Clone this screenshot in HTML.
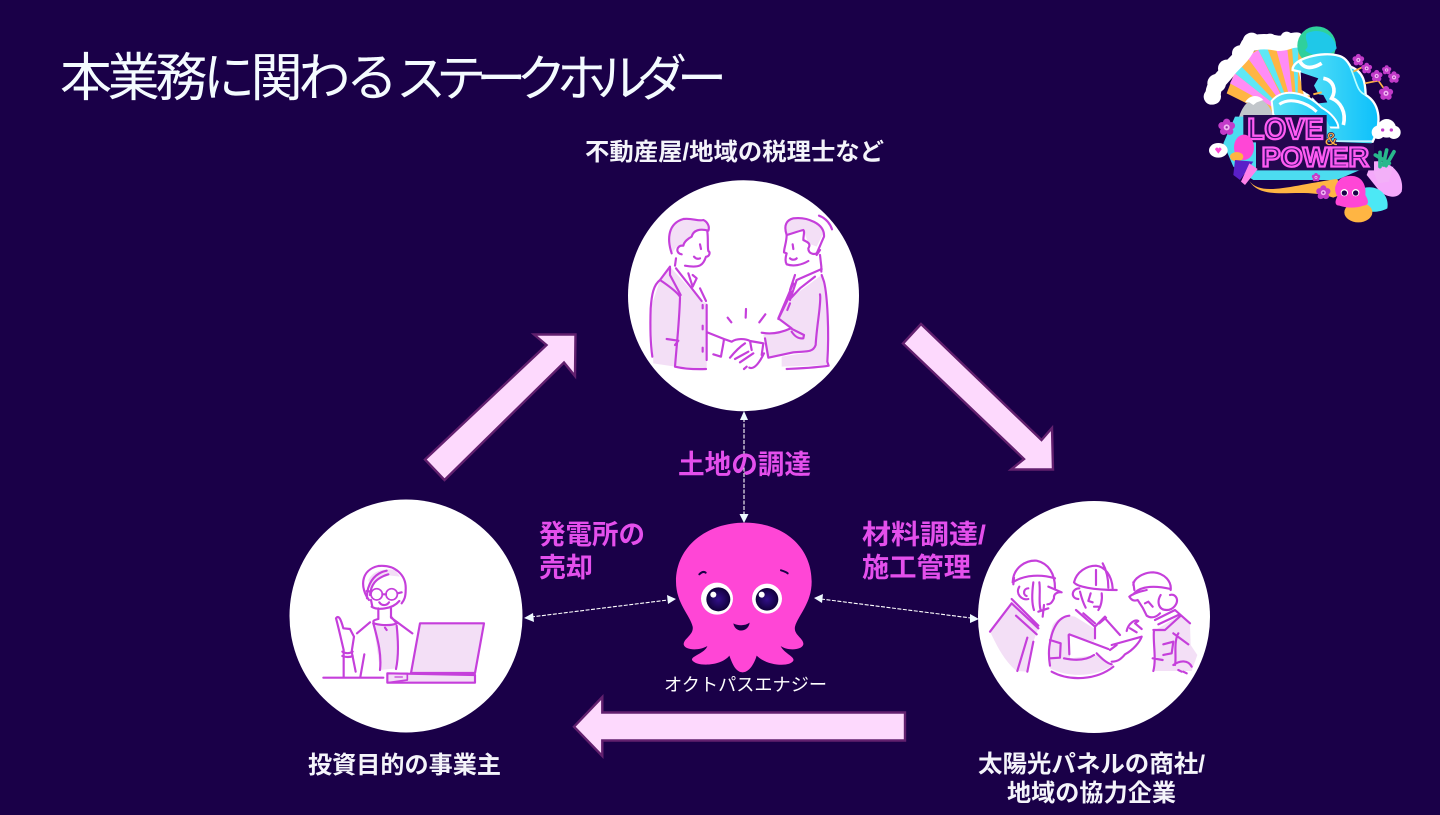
<!DOCTYPE html>
<html lang="ja"><head><meta charset="utf-8"><title>本業務に関わるステークホルダー</title>
<style>
html,body{margin:0;padding:0;background:#1a0048;width:1440px;height:815px;overflow:hidden}
svg{display:block}
text{font-family:"Liberation Sans","Noto Sans CJK JP",sans-serif}
.b{font-weight:700;fill:#f4f4fa;font-size:24px}
.p{font-weight:700;fill:#e44fec;font-size:27px}
.ln{fill:none;stroke:#c53fdb;stroke-width:6.5;stroke-linecap:round;stroke-linejoin:round}
.fl{fill:#f3dff6;stroke:none}
.ar{fill:#fdd9fd;stroke:#62206e;stroke-width:2.4}
.da{stroke:#fff;stroke-width:1.1;stroke-dasharray:4 1.5;fill:none}
.ah{fill:#eefaff}
</style></head><body>
<svg width="1440" height="815" viewBox="0 0 1440 815" xmlns="http://www.w3.org/2000/svg">
<defs>
<linearGradient id="w" x1="0" y1="0" x2="1" y2="0"><stop offset="0" stop-color="#5fe3f5"/><stop offset="1" stop-color="#0cc0fb"/></linearGradient>
<radialGradient id="e"><stop offset="0" stop-color="#32108a"/><stop offset="1" stop-color="#10003a"/></radialGradient>
<g id="f"><circle r="17" fill="#c23bc9"/><circle cx="0" cy="-15" r="11" fill="#c23bc9"/><circle cx="14" cy="-5" r="11" fill="#c23bc9"/><circle cx="9" cy="12" r="11" fill="#c23bc9"/><circle cx="-9" cy="12" r="11" fill="#c23bc9"/><circle cx="-14" cy="-5" r="11" fill="#c23bc9"/><circle r="9" fill="#f4b4f4"/><circle r="3.5" fill="#8b2aa0"/></g>
</defs>
<rect width="1440" height="815" fill="#1a0048"/>
<text x="60" y="96" font-size="52" fill="#f4fbff" textLength="338" lengthAdjust="spacing" style="font-weight:400">本業務に関わる</text>
<text x="396" y="96" font-size="50" fill="#f4fbff" textLength="331" lengthAdjust="spacing" style="font-weight:400">ステークホルダー</text>

<!-- circles -->
<circle cx="743.5" cy="295.7" r="115.5" fill="#fff"/>
<circle cx="406" cy="616" r="116.5" fill="#fff"/>
<circle cx="1094" cy="617" r="116" fill="#fff"/>

<!-- arrows -->
<polygon class="ar" points="921,324 903,343.5 1024,459 1011,469.5 1053,469.5 1052,428 1041.5,440"/>
<polygon class="ar" points="574,726.7 602.3,697 602.3,712.5 905,712.5 905,740.5 602.3,740.5 602.3,756"/>
<polygon class="ar" points="425,459.5 444.5,480 564,362.5 575,376 575.5,334.5 534,334.5 546.5,345"/>

<!-- dashed -->
<line class="da" x1="744" y1="418" x2="744" y2="516"/>
<polygon class="ah" points="744,411 740,420 748,420"/><polygon class="ah" points="744,523 739.5,514 748.5,514"/>
<line class="da" x1="531" y1="617" x2="668" y2="600"/>
<polygon class="ah" points="524,618 533,613 534,622"/><polygon class="ah" points="676,599 667,595 668,604"/>
<line class="da" x1="821" y1="599" x2="971" y2="618"/>
<polygon class="ah" points="814,598 823,594 822,603"/><polygon class="ah" points="979,619 970,614 970,623"/>

<!-- labels -->
<text class="b" x="585" y="160" textLength="299" lengthAdjust="spacingAndGlyphs">不動産屋/地域の税理士など</text>
<text class="p" x="678" y="474" textLength="133" lengthAdjust="spacingAndGlyphs">土地の調達</text>
<text class="p" x="539" y="544" textLength="106" lengthAdjust="spacingAndGlyphs">発電所の</text>
<text class="p" x="539" y="577" textLength="54" lengthAdjust="spacingAndGlyphs">売却</text>
<text class="p" x="862" y="544" textLength="124" lengthAdjust="spacingAndGlyphs">材料調達/</text>
<text class="p" x="862" y="577" textLength="109" lengthAdjust="spacingAndGlyphs">施工管理</text>
<text x="664" y="691" font-size="18" fill="#fff" textLength="163" lengthAdjust="spacingAndGlyphs">オクトパスエナジー</text>
<text class="b" x="308" y="773" textLength="193" lengthAdjust="spacingAndGlyphs">投資目的の事業主</text>
<text class="b" x="978" y="772" textLength="227" lengthAdjust="spacingAndGlyphs">太陽光パネルの商社/</text>
<text class="b" x="1007" y="801" textLength="169" lengthAdjust="spacingAndGlyphs">地域の協力企業</text>

<!-- handshake illustration -->
<g transform="translate(620,175) scale(.33333)">
<path class="fl" d="M120,315 L150,275 L245,380 L262,385 L260,580 L165,575 L100,565 L92,400Z"/>
<path class="fl" d="M155,235 C140,190 145,145 190,132 C215,128 235,140 250,135 C262,140 270,155 265,167 C240,160 220,165 215,185 C205,190 192,200 190,212 L170,215Z"/>
<path class="fl" d="M485,575 L485,545 L580,530 L440,545 L430,480 L510,460 L475,430 L510,370 L605,300 L625,400 L625,570Z"/>
<path class="fl" d="M500,180 L550,165 L565,205 L590,215 L610,175 C605,145 560,130 520,130 C500,135 490,150 500,180Z"/>
<path class="ln" d="M155,235 C140,190 145,145 190,132 C215,128 235,140 250,135 C262,140 270,155 265,167 C240,160 220,165 215,185 C205,190 192,200 190,212"/>
<path class="ln" d="M262,170 C265,190 262,215 265,228 C272,232 268,245 258,245 C250,270 240,280 195,272"/>
<path class="ln" d="M188,212 C170,210 165,235 185,238 M168,250 L165,272 M240,208 L243,222 M222,245 C228,252 235,252 240,250"/>
<path class="ln" d="M120,315 L150,275 L150,300 L182,360 M92,400 C95,360 100,330 120,315 C150,335 170,350 180,365 M92,400 C90,460 92,510 97,545"/>
<path class="ln" d="M168,280 L245,378 M205,295 L218,335 L230,310 L218,300 M240,340 L258,378"/>
<path class="ln" d="M180,368 C178,440 170,510 165,575 C195,582 230,583 258,582 M260,390 L260,555 M248,390 L248,400 M248,452 L248,463 M248,518 L248,530 M140,492 L175,497 L165,510"/>
<path class="ln" d="M262,472 L312,492 C310,510 305,530 303,545 L280,538 M312,492 L335,500 C350,490 375,490 390,498 L395,525 M330,548 C345,530 360,515 375,505 M390,498 L430,505 L425,540 M345,552 L385,530 M360,562 L400,535 M372,582 L380,575 M388,578 C400,583 415,570 432,535"/>
<path class="ln" d="M323,428 L334,442 M378,402 L377,428 M436,418 L418,442"/>
<path class="ln" d="M500,180 C490,150 500,135 520,130 C560,125 615,145 612,185 C605,200 595,225 590,235 C580,240 565,235 565,220 C575,205 560,200 550,195 C550,180 555,170 550,165 C530,170 510,178 500,180Z"/>
<path class="ln" d="M500,180 C500,200 492,220 492,232 L500,235 C497,245 495,260 500,268 C520,275 545,270 565,258 M510,250 C516,256 525,255 530,250 M518,208 L520,222 M597,122 C620,130 632,150 636,163 M590,240 L600,225 M600,240 L604,275 L604,290"/>
<path class="ln" d="M605,282 L530,315 L510,375 M525,300 L510,345 M605,300 L612,320 C622,360 628,470 622,560 L626,572 C590,578 540,580 500,582 M585,305 L540,340 L510,372 M510,385 L502,405 M520,325 L475,430 L515,460 M515,350 L475,432"/>
<path class="ln" d="M425,473 C460,480 490,470 512,460 L552,480 L550,490 C535,492 525,485 515,470 M435,490 L445,548 L520,532 C555,528 578,535 587,510 C590,450 605,380 600,358"/>
</g>

<!-- woman at laptop -->
<g transform="translate(285,495) scale(.33333)">
<path class="fl" d="M265,385 L335,390 L335,520 L285,525Z"/>
<path class="fl" d="M250,255 C265,225 300,220 330,225 L345,245 L300,240 C275,245 262,265 258,290Z"/>
<path class="fl" d="M405,385 L597,385 L570,532 L380,532Z"/>
<path class="fl" d="M307,535 L570,540 L570,563 L307,563Z"/>
<path class="ln" d="M252,315 C225,280 225,225 280,213 C330,208 365,240 362,285 C362,305 358,315 350,325"/>
<path class="ln" d="M246,310 C245,270 265,235 305,227 M255,300 C258,270 270,250 310,238"/>
<path class="ln" d="M260,335 C275,345 320,345 343,318 M258,315 L262,335 M280,340 L280,370 M318,340 L318,365"/>
<circle class="ln" cx="275" cy="298" r="17" style="stroke-width:5"/><circle class="ln" cx="320" cy="298" r="17" style="stroke-width:5"/>
<path class="ln" d="M283,322 C290,333 305,333 312,322 M292,298 L303,298 M258,290 L245,288 M338,295 L350,292"/>
<path class="ln" d="M280,372 C255,378 270,382 265,385 C290,392 320,392 335,385 L318,365 M318,368 L382,415 M255,382 L216,415"/>
<path class="ln" d="M265,385 C280,440 290,480 285,525 M335,392 C340,440 340,490 333,522 M300,398 L305,405"/>
<path class="ln" d="M115,548 L295,548 M238,478 L226,546 M176,546 L176,465 C170,440 160,395 153,370 C162,358 168,375 175,400 L195,402 L207,425 L200,470 L212,530"/>
<path class="ln" d="M172,470 C180,476 195,476 203,470 M172,483 C182,487 195,487 203,483"/>
<path class="ln" d="M405,385 L597,385 L570,534 L378,534Z M307,535 L570,540 L570,563 L307,563Z"/>
<path class="ln" d="M307,535 L367,535 L367,555 L307,563" style="stroke-width:5"/>
<path class="ln" d="M330,546 L352,546" style="stroke-width:4"/>
</g>

<!-- workers -->
<g transform="translate(970,495) scale(.33333)">
<path class="fl" d="M60,410 L125,325 L205,400 L190,440 L172,530 L140,528 C100,495 80,450 60,410Z"/>
<path class="fl" d="M248,390 C265,365 290,360 315,365 L372,400 L372,440 L300,420 L300,490 L380,480 L430,510 C380,545 300,550 240,520 C232,480 235,430 248,390Z"/>
<path class="fl" d="M552,405 L565,400 L630,360 L660,390 L662,450 L682,480 L665,528 L552,528 C555,490 545,440 552,405Z"/>
<path class="ln" d="M128,262 C130,215 170,195 200,197 C235,205 255,235 255,280 M128,262 C165,238 215,238 255,250 M130,268 L132,248"/>
<path class="ln" d="M148,275 C135,295 155,318 175,312 M175,280 C160,280 158,300 170,303 M190,262 C185,300 185,325 192,345 M208,262 C212,290 205,325 212,345 M235,275 L275,292 C265,290 250,295 252,310 C245,325 240,328 232,328 M205,350 L235,340 M222,330 L218,365"/>
<path class="ln" d="M60,410 L125,325 L205,400 M125,312 L205,392 M138,362 L200,418 M190,440 L172,530 M172,428 L142,528"/>
<path class="ln" d="M312,262 C320,230 350,212 378,212 C405,215 425,240 428,280 M312,262 C320,275 370,285 440,285 M378,225 L378,270 M398,205 C412,230 415,260 415,278"/>
<path class="ln" d="M328,280 C305,280 300,310 325,312 M330,290 C335,310 340,325 347,338 M362,295 L355,318 L368,322 M395,295 C398,315 392,335 385,345 M372,335 L385,335"/>
<path class="ln" d="M318,345 L375,395 L405,365 M340,355 L375,385 M375,395 L375,430 M405,370 L450,420 M388,385 L408,368"/>
<path class="ln" d="M298,362 C265,365 245,400 238,455 C235,480 238,500 240,512 M240,435 L272,445 L270,488 L240,490 M245,530 C300,560 380,555 430,515"/>
<path class="ln" d="M298,418 L415,462 M296,420 L298,478 M282,490 C320,498 350,495 372,480 M380,475 C395,490 410,505 425,508 M425,450 L515,425 C510,440 490,465 465,478 C455,490 445,500 425,500 M420,465 L440,450"/>
<path class="ln" d="M470,408 C475,385 495,372 505,378 L495,385 L515,402 M480,400 L500,412"/>
<path class="ln" d="M490,270 C490,250 520,232 550,232 C585,235 605,260 602,285 M490,298 C505,278 540,268 602,282 M478,305 C490,295 510,290 530,285 M478,305 C485,318 495,318 503,315 M490,262 L493,285"/>
<path class="ln" d="M505,318 L518,338 L530,362 C545,372 560,365 570,355 M525,325 L535,320 L548,335 M572,300 C560,320 565,345 590,345 C610,345 625,325 620,310 C615,298 605,298 600,300"/>
<path class="ln" d="M555,375 L615,345 L660,385 M565,388 L625,360 M550,405 L585,405 L632,362 M610,415 L655,448 M552,405 C548,440 560,490 550,528 M580,448 L610,440 L605,475 L580,480 M625,415 C610,440 620,490 615,510 M548,490 L578,495 M610,510 C630,495 655,495 665,515 M625,525 L635,530 M640,530 L650,535"/>
</g>

<!-- octopus -->
<g transform="translate(650,510) scale(.33333)">
<path fill="#ff46d6" d="M285,38 C400,38 485,110 485,215 C485,280 445,315 435,350 C430,375 462,385 460,403 C455,422 410,422 392,408 C402,430 435,440 430,452 C420,472 350,468 320,437 C315,455 300,487 278,487 C255,487 245,455 238,437 C215,468 140,472 126,450 C123,438 165,430 172,408 C150,422 105,422 101,403 C101,385 132,375 128,350 C120,315 78,280 78,215 C78,110 170,38 285,38Z"/>
<circle cx="201" cy="266" r="48" fill="#fff"/><circle cx="351" cy="266" r="45" fill="#fff"/>
<circle cx="205" cy="268" r="36" fill="url(#e)"/><circle cx="351" cy="268" r="34" fill="url(#e)"/>
<circle cx="190" cy="254" r="9" fill="#fff"/><circle cx="335" cy="254" r="9" fill="#fff"/>
<path fill="#1a0048" d="M250,340 C265,348 285,348 299,338 C295,368 255,370 250,340Z"/>
<path d="M148,193 C155,186 162,184 167,188" stroke="#1a0048" stroke-width="6" fill="none" stroke-linecap="round"/>
<path d="M393,181 C400,183 408,186 413,190" stroke="#1a0048" stroke-width="6" fill="none" stroke-linecap="round"/>
</g>

<!-- logo -->
<g transform="translate(1190,15) scale(.33333)">
<!-- fan -->
<path d="M110,235 L150,130 L230,90 L330,90 L370,300 L240,300Z" fill="#ffb543"/>
<path d="M300,305 L120,205 L135,175Z M305,305 L170,125 L205,105Z M315,305 L255,90 L290,85Z" fill="#ff8cf5"/>
<path d="M300,305 L135,175 L150,150Z M310,305 L205,105 L230,95Z M322,305 L305,85 L325,90Z" fill="#5ee7f5"/>
<!-- cloud -->
<path d="M70,245 C65,210 95,195 115,165 C135,140 160,125 175,90 C205,75 240,80 265,85 C290,85 300,75 320,75" fill="none" stroke="#fff" stroke-width="46" stroke-linecap="round" stroke-linejoin="round"/>
<g fill="#fff"><circle cx="65" cy="245" r="24"/><circle cx="80" cy="205" r="28"/><circle cx="110" cy="160" r="26"/><circle cx="150" cy="115" r="24"/><circle cx="185" cy="80" r="27"/><circle cx="240" cy="78" r="22"/><circle cx="290" cy="68" r="18"/></g>
<!-- planet -->
<circle cx="380" cy="92" r="58" fill="#2fd09c"/>
<path d="M350,55 C390,35 435,60 440,100 C420,125 370,130 345,105 C365,90 340,75 350,55Z" fill="#1fc8e8"/>
<!-- mountain -->
<path d="M142,330 C150,270 185,240 215,255 C235,265 250,290 255,330Z" fill="#c2c6cb"/>
<path d="M165,262 C180,238 205,238 220,255 L200,262 L190,270 L178,262Z" fill="#fff"/>
<!-- big wave -->
<path d="M308,165 C305,130 400,108 445,122 C470,128 478,150 482,155 C522,170 526,205 527,240 C565,262 580,315 548,380 L440,380 L370,290 L370,235 L345,240 L330,170Z" fill="url(#w)" stroke="#fff" stroke-width="7"/>
<path d="M332,172 L385,190 L372,212 L386,238 L400,240 L412,262 L385,265 L362,242 L335,225Z" fill="#1a0048"/>
<path d="M370,238 L395,232" stroke="#ffb543" stroke-width="6"/>
<path d="M330,140 C345,165 370,160 395,145 M400,190 C430,195 440,225 425,250 C450,260 470,290 460,330" fill="none" stroke="#fff" stroke-width="11"/>
<path d="M480,155 C500,200 500,230 527,240" fill="none" stroke="#bff" stroke-width="5"/>
<!-- small wave -->
<path d="M245,258 C280,215 350,232 395,278 C425,295 445,320 445,338 L300,335 L250,300Z" fill="url(#w)" stroke="#fff" stroke-width="6"/>
<path d="M268,268 C300,245 350,262 380,290" fill="none" stroke="#fff" stroke-width="9"/>
<!-- lower backdrop -->
<path d="M135,305 L100,385 L130,455 L190,495 L440,495 L545,450 L545,380 L440,380 L405,305Z" fill="#4cdcf0"/>
<path d="M545,440 C600,430 645,480 635,530 C620,555 590,545 570,530 L530,480Z" fill="#f5a9fb"/>
<path d="M505,525 C555,500 600,535 592,580 C565,595 530,592 505,580Z" fill="#4ce8f5"/>
<path d="M178,498 C215,545 300,512 440,492 L475,530 L430,548 C330,512 220,565 178,498Z" fill="#ffb543"/>
<ellipse cx="505" cy="592" rx="42" ry="30" fill="#ffb543"/>
<!-- title plate -->
<path d="M160,300 L410,300 L410,380 L552,385 L552,466 L198,466 L198,382 L160,382Z" fill="#24084f"/>
<text x="172" y="372" font-size="88" style="font-weight:700" fill="#3a0d6e" stroke="#ff5cf2" stroke-width="7" textLength="228" lengthAdjust="spacingAndGlyphs">LOVE</text>
<text x="215" y="455" font-size="84" style="font-weight:700" fill="#3a0d6e" stroke="#ff5cf2" stroke-width="7" textLength="322" lengthAdjust="spacingAndGlyphs">POWER</text>
<text x="403" y="392" font-size="56" style="font-weight:700" fill="#ffb543" stroke="#24084f" stroke-width="2">&amp;</text>
<!-- small octopus -->
<path fill="#ff46d6" d="M478,483 C515,480 530,510 526,540 C535,555 540,570 520,572 C500,580 470,580 448,572 C432,572 436,555 442,545 C435,530 433,518 438,510 C445,492 460,483 478,483Z"/>
<circle cx="463" cy="533" r="11" fill="#fff"/><circle cx="497" cy="533" r="11" fill="#fff"/>
<circle cx="463" cy="534" r="8" fill="#1a0048"/><circle cx="497" cy="534" r="8" fill="#1a0048"/>
<!-- flowers -->
<path d="M490,170 L530,150 M525,205 L565,197 L585,225" fill="none" stroke="#ffb543" stroke-width="5"/>
<use href="#f" transform="translate(110,337)"/><use href="#f" transform="translate(400,533) scale(.85)"/><use href="#f" transform="translate(378,487) scale(.5)"/><use href="#f" transform="translate(505,135) scale(.7)"/><use href="#f" transform="translate(530,160) scale(.65)"/><use href="#f" transform="translate(560,183) scale(.7)"/><use href="#f" transform="translate(612,187) scale(.7)"/><use href="#f" transform="translate(590,165) scale(.55)"/><use href="#f" transform="translate(588,235) scale(.85)"/>
<!-- right cloud -->
<g fill="#fff"><circle cx="590" cy="340" r="28"/><circle cx="565" cy="352" r="20"/><circle cx="612" cy="352" r="20"/></g>
<circle cx="578" cy="345" r="5" fill="#c23bc9"/><circle cx="604" cy="345" r="5" fill="#c23bc9"/>
<!-- bubble -->
<ellipse cx="85" cy="406" rx="28" ry="22" fill="#fff"/>
<path d="M85,416 L75,403 C78,395 85,397 85,402 C85,397 92,395 95,403Z" fill="#ff46d6"/>
<!-- left creature -->
<ellipse cx="162" cy="397" rx="30" ry="38" fill="#ff46d6"/>
<ellipse cx="140" cy="425" rx="20" ry="14" fill="#ffb543"/>
<path d="M135,435 L190,440 L150,495 L130,480Z" fill="#5a1fc8"/>
<path d="M178,445 L203,462 L165,510 L153,500Z" fill="#ff80ea"/>
<!-- plant -->
<path d="M550,470 L610,455 L597,500 L565,505Z" fill="#f3b0f8"/>
<path d="M570,455 L570,412 M588,452 L612,410 M598,445 L556,420 M580,450 L590,405" stroke="#28b88c" stroke-width="11" fill="none" stroke-linecap="round"/>
</g>
</svg>
</body></html>
